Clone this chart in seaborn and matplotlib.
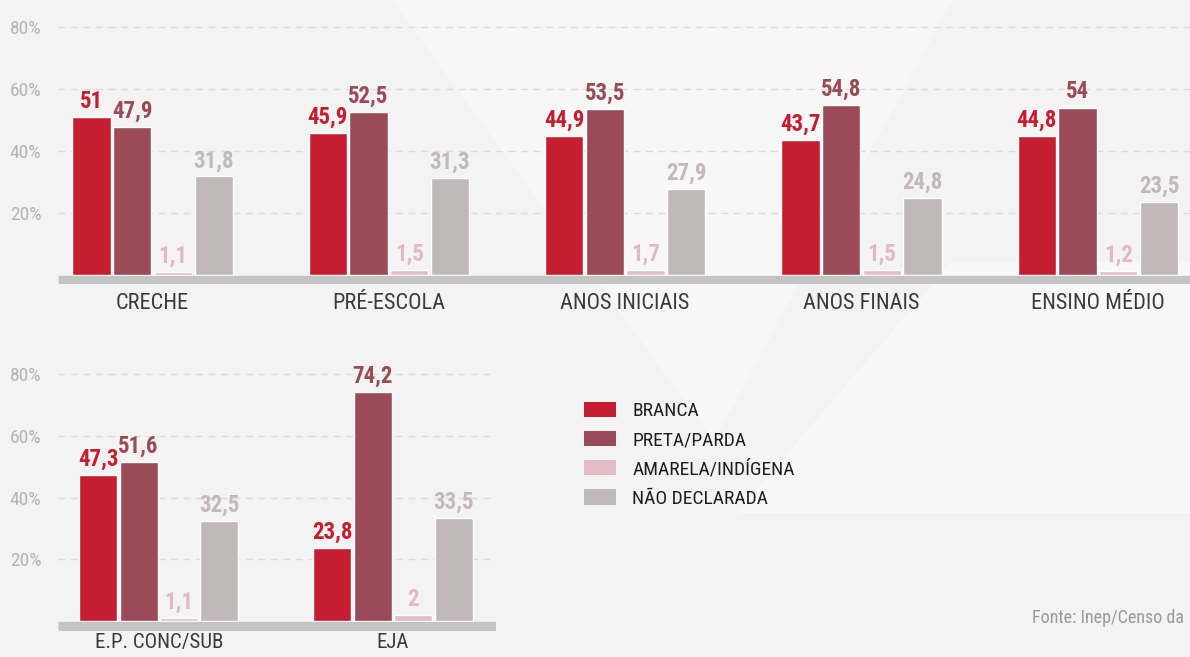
import pandas as pd
import seaborn as sns
import matplotlib.pyplot as plt
from matplotlib import font_manager
from matplotlib.patches import Polygon, Patch

# dados
series = ["BRANCA", "PRETA/PARDA", "AMARELA/INDÍGENA", "NÃO DECLARADA"]
cores = ["#c41e30", "#9b4a57", "#e5bcc4", "#c1b8b9"]
cores_rotulo = ["#c41e30", "#9b4a57", "#e3b9c1", "#c3b9ba"]

etapas_cima = ["CRECHE", "PRÉ-ESCOLA", "ANOS INICIAIS", "ANOS FINAIS", "ENSINO MÉDIO"]
branca_cima = [51, 45.9, 44.9, 43.7, 44.8]
preta_cima = [47.9, 52.5, 53.5, 54.8, 54]
amarela_cima = [1.1, 1.5, 1.7, 1.5, 1.2]
naodecl_cima = [31.8, 31.3, 27.9, 24.8, 23.5]

etapas_baixo = ["E.P. CONC/SUB", "EJA"]
branca_baixo = [47.3, 23.8]
preta_baixo = [51.6, 74.2]
amarela_baixo = [1.1, 2]
naodecl_baixo = [32.5, 33.5]

yticks = [20, 40, 60, 80]


def tabela(etapas, *valores):
    linhas = []
    for serie, vals in zip(series, valores):
        for etapa, v in zip(etapas, vals):
            linhas.append({"etapa": etapa, "cor": serie, "pct": v})
    return pd.DataFrame(linhas)


cima = tabela(etapas_cima, branca_cima, preta_cima, amarela_cima, naodecl_cima)
baixo = tabela(etapas_baixo, branca_baixo, preta_baixo, amarela_baixo, naodecl_baixo)

# fonte condensada, se houver
fonte = "DejaVu Sans"
for f in ["Liberation Sans Narrow", "Roboto Condensed", "Roboto"]:
    try:
        font_manager.findfont(f, fallback_to_default=False)
        fonte = f
        break
    except Exception:
        pass

sns.set_style("white")
plt.rcParams["font.family"] = [fonte, "DejaVu Sans"]

fundo = "#f3f3f3"
fig = plt.figure(figsize=(11.9, 6.57), dpi=100)
fig.patch.set_facecolor(fundo)

# formas claras no fundo
fig.add_artist(Polygon([(0.33, 1.0), (0.60, 0.33), (0.80, 1.0)], closed=True,
                       transform=fig.transFigure, color="#f7f7f7", zorder=0))
fig.add_artist(Polygon([(0.62, 0.22), (0.80, 0.60), (1.0, 0.60), (1.0, 0.22)], closed=True,
                       transform=fig.transFigure, color="#f8f8f8", zorder=0))

ax1 = fig.add_axes([58 / 1190, 1 - 284.3 / 657, 1 - 58 / 1190, 272.8 / 657])
ax2 = fig.add_axes([58 / 1190, 1 - 630.5 / 657, (496 - 58) / 1190, 272.0 / 657])


def desenha(ax, dados, etapas, xlim, pad_x=6, tam_x=16):
    sns.barplot(data=dados, x="etapa", y="pct", hue="cor", order=etapas,
                hue_order=series, palette=cores, width=0.69, gap=0.06,
                saturation=1, legend=False, ax=ax, zorder=3)
    ax.set_facecolor("none")
    ax.set_ylim(-3, 85)
    ax.set_xlim(*xlim)
    ax.axhline(-1.5, color="#c4c4c4", lw=6.7, zorder=4, solid_capstyle="butt")
    for y in yticks:
        ax.axhline(y, color="#dcdcdc", lw=1, ls=(0, (5, 4)), zorder=1)
    ax.set_yticks(yticks)
    ax.set_yticklabels([f"{y}%" for y in yticks], color="#b4b4b4", fontsize=14)
    ax.tick_params(axis="y", length=0, pad=12, left=False)
    ax.set_xlabel("")
    ax.set_ylabel("")
    ax.tick_params(axis="x", length=0, pad=pad_x, labelsize=tam_x, labelcolor="#3a3a3a")
    for s in ax.spines.values():
        s.set_visible(False)
    for cont, serie, cor in zip(ax.containers, series, cores_rotulo):
        vals = dados[dados["cor"] == serie].set_index("etapa").loc[etapas, "pct"]
        rot = [f"{v:g}".replace(".", ",") for v in vals]
        ax.bar_label(cont, labels=rot, padding=3, color=cor, fontsize=16.5,
                     fontweight="bold", zorder=5)


desenha(ax1, cima, etapas_cima, (-0.40, 4.39))
desenha(ax2, baixo, etapas_baixo, (-0.43, 1.44), pad_x=2, tam_x=15)

# legenda
handles = [Patch(facecolor=c, edgecolor="none") for c in cores]
fig.legend(handles, series, loc="upper left", bbox_to_anchor=(566 / 1190, 1 - 384 / 657),
           frameon=False, fontsize=14, handlelength=1.65, handleheight=0.85,
           handletextpad=0.85, labelspacing=0.55, labelcolor="#1e1e1e")

fig.text(1184 / 1190, 1 - 618 / 657, "Fonte: Inep/Censo da", ha="right", va="center",
         fontsize=13, color="#9a9a9a")

fig.savefig("out.png", dpi=100, facecolor=fundo)
